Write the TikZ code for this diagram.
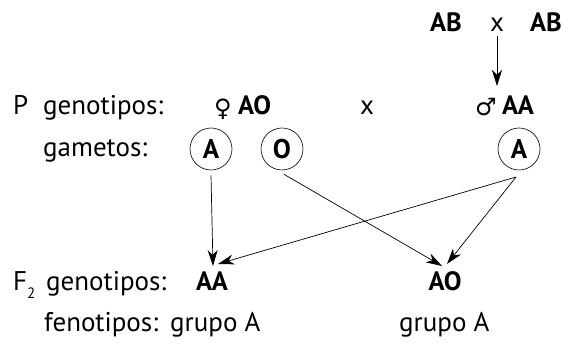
\documentclass[tikz,border=0pt]{standalone}
\usepackage{fontspec}
\setmainfont{PT Sans}
\newfontfamily\symfont{DejaVu Sans}
\usetikzlibrary{arrows.meta}
\begin{document}
\begin{tikzpicture}[x=1pt,y=-1pt,
  txt/.style={inner sep=0pt, font=\fontsize{27}{31}\selectfont},
  lw/.style={txt, anchor=base west},
  lc/.style={txt, anchor=base},
  bc/.style={txt, anchor=base, font=\bfseries\fontsize{26.5}{30}\selectfont},
  bw/.style={txt, anchor=base west, font=\bfseries\fontsize{26.5}{30}\selectfont},
  sym/.style={inner sep=0pt, anchor=base, font=\symfont\fontsize{24}{28}\selectfont},
  gam/.style={circle, draw, line width=0.6pt, minimum size=42pt, inner sep=0pt, font=\bfseries\fontsize{27}{31}\selectfont},
  arr/.style={-{Stealth[length=16pt,width=10pt,inset=5pt]}, line width=0.7pt}]
\useasboundingbox (0,0) rectangle (574,344);
% top cross
\node[bc] (ab1) at (446,32) {AB};
\node[lc] (xtop) at (497,32) {x};
\node[bc] (ab2) at (546,32) {AB};
\coordinate (arrend) at (497,86);
\draw[arr] ([yshift=-4pt]xtop.base) -- (arrend);
% P row
\node[lw] (P) at (13,115) {P};
\node[lw] (gen1) at (43,115) {genotipos:};
\node[sym] (fem) at (223,117) {♀};
\node[bw] (ao1) at (238,115) {AO};
\node[lc] (xmid) at (367,115) {x};
\node[sym] (mal) at (486,116) {♂};
\node[bw] (aa1) at (502,115) {AA};
% gametes
\node[lw] (gam) at (43,157) {gametos:};
\node[gam] (gA) at (211,149) {A};
\node[gam] (gO) at (282,149) {O};
\node[gam] (gA2) at (519,149) {A};
% F2
\node[lw] (F2) at (13,291) {F\raisebox{-0.28em}{\fontsize{15}{15}\selectfont 2}};
\node[lw] (gen2) at (46,291) {genotipos:};
\node[bc] (AA) at (212,291) {AA};
\node[bc] (AO) at (445,291) {AO};
\node[lw] (fen) at (44,332) {fenotipos:};
\node[lw] (gr1) at (170,332) {grupo A};
\node[lw] (gr2) at (399,332) {grupo A};
% arrows
\coordinate (s2) at (516,177);
\coordinate (tAA1) at (213,266);
\coordinate (tAA2) at (218,264);
\coordinate (tAO1) at (442,266);
\coordinate (tAO2) at (447,264);
\draw[arr] (gA.south) ++(0,5) -- (tAA1);
\draw[arr] (gO.south) ++(2,4) -- (tAO1);
\draw[arr] (s2) -- (tAA2);
\draw[arr] (s2) -- (tAO2);
\end{tikzpicture}
\end{document}
